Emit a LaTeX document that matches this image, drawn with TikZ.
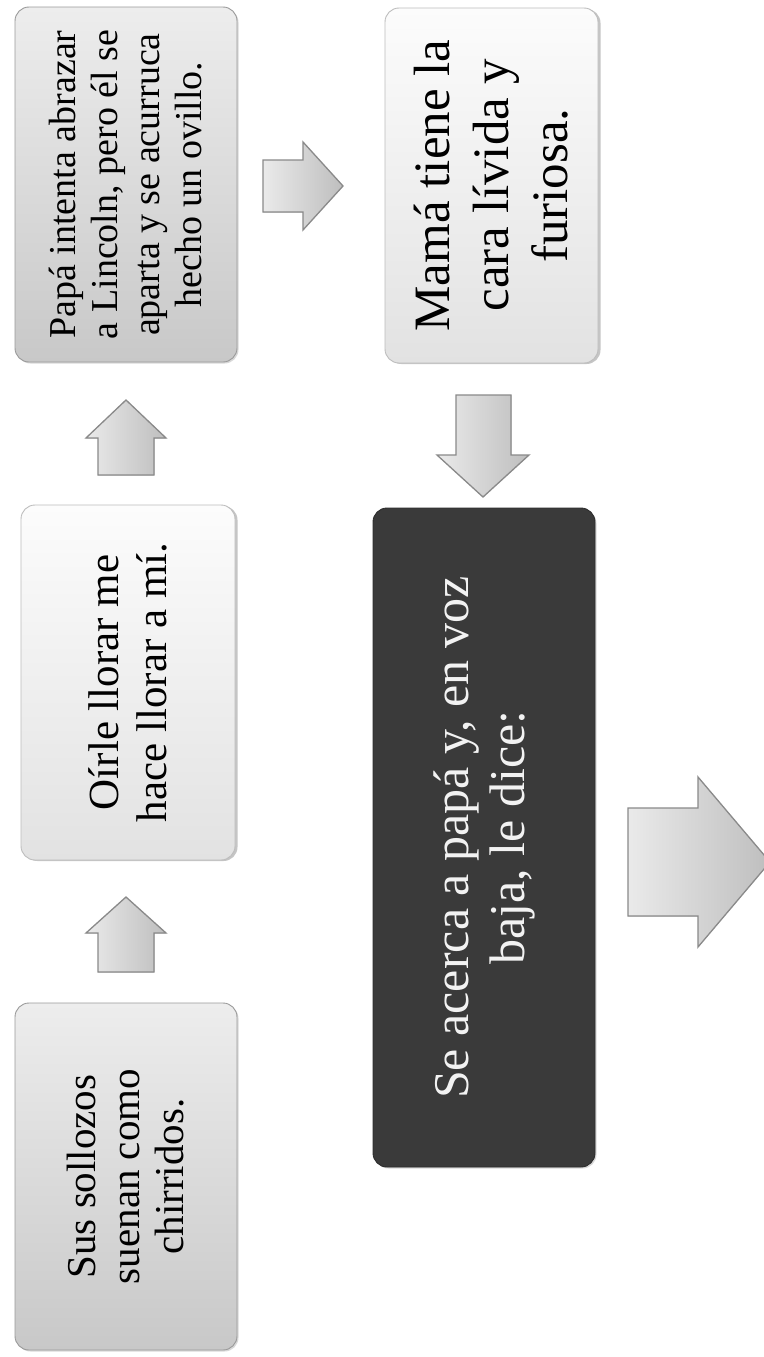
\documentclass[tikz,border=0pt]{standalone}
\usepackage{fontspec}
\setmainfont{Liberation Serif}
\usetikzlibrary{shadows,calc}
\definecolor{gtop}{HTML}{EDEDED}
\definecolor{gbot}{HTML}{C8C8C8}
\definecolor{gborder}{HTML}{9A9A9A}
\definecolor{ltop}{HTML}{FCFCFC}
\definecolor{lbot}{HTML}{E2E2E2}
\definecolor{lborder}{HTML}{BDBDBD}
\definecolor{dfill}{HTML}{3A3A3A}
\definecolor{dborder}{HTML}{2C2C2C}
\definecolor{dtext}{HTML}{F2F2F2}
\definecolor{alight}{HTML}{EAEAEA}
\definecolor{adark}{HTML}{BEBEBE}
\definecolor{aborder}{HTML}{8A8A8A}
\begin{document}
\begin{tikzpicture}[x=1pt,y=-1pt,
  box/.style={rectangle, rounded corners=14pt, rotate=90, align=center,
    inner sep=0pt, line width=0.9pt},
  graybox/.style={box, draw=gborder, top color=gtop, bottom color=gbot,
    drop shadow={shadow xshift=1.5pt, shadow yshift=-1.5pt, opacity=0.3}},
  lightbox/.style={box, draw=lborder, top color=ltop, bottom color=lbot,
    drop shadow={shadow xshift=2.5pt, shadow yshift=-1pt, opacity=0.45}},
  darkbox/.style={box, draw=dborder, fill=dfill, text=dtext,
    drop shadow={shadow xshift=1.5pt, shadow yshift=-1.5pt, opacity=0.3}},
  blockarrow/.style={draw=aborder, line width=1.3pt, line join=miter,
    left color=alight, right color=adark}
]
\useasboundingbox (0,0) rectangle (763,1357);
\fill[white] (0,0) rectangle (763,1357);

% boxes
\node[graybox, minimum width=347pt, minimum height=222pt,
  font=\fontsize{41}{44}\selectfont] (b1) at (126,1176.5)
  {Sus sollozos\\suenan como\\chirridos.};
\node[lightbox, minimum width=355pt, minimum height=214pt,
  font=\fontsize{43}{48}\selectfont] (b2) at (128,682.5)
  {Oírle llorar me\\hace llorar a mí.};
\node[graybox, minimum width=355pt, minimum height=222pt,
  font=\fontsize{38}{42}\selectfont] (b3) at (126,184.5)
  {Papá intenta abrazar\\a Lincoln, pero él se\\aparta y se acurruca\\hecho un ovillo.};
\node[lightbox, minimum width=355pt, minimum height=213pt,
  font=\fontsize{51}{59}\selectfont] (b4) at (491.5,185.5)
  {Mamá tiene la\\cara lívida y\\furiosa.};
\node[darkbox, minimum width=659pt, minimum height=222pt,
  font=\fontsize{50}{56}\selectfont] (b5) at (484,837.5)
  {Se acerca a papá y, en voz\\baja, le dice:};

% block arrows
\filldraw[blockarrow] (98,972) -- (98,933) -- (86,933) -- (126,897)
  -- (166,933) -- (154,933) -- (154,972) -- cycle;
\filldraw[blockarrow] (98,475) -- (98,438) -- (86,438) -- (126,400)
  -- (166,438) -- (154,438) -- (154,475) -- cycle;
\filldraw[blockarrow] (263,160) -- (303,160) -- (303,142) -- (343,186)
  -- (303,230) -- (303,212) -- (263,212) -- cycle;
\filldraw[blockarrow] (456,395) -- (511,395) -- (511,455) -- (529,455)
  -- (483,497) -- (437,455) -- (456,455) -- cycle;
\filldraw[blockarrow] (628,808) -- (698,808) -- (698,777) -- (770,862)
  -- (698,947) -- (698,916) -- (628,916) -- cycle;
\end{tikzpicture}
\end{document}
